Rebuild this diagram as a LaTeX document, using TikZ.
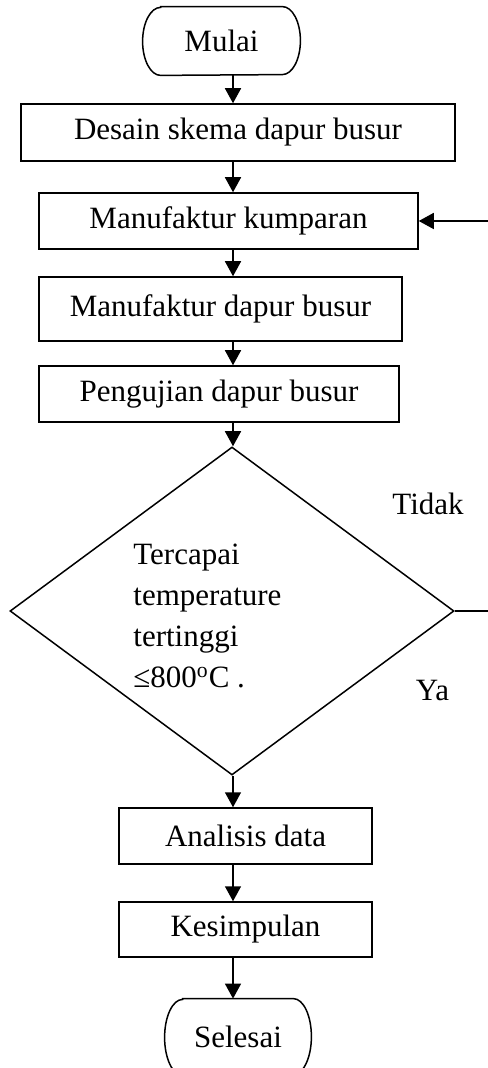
\documentclass[tikz,border=0pt]{standalone}
\usepackage{fontspec}
\setmainfont{Liberation Serif}
\usetikzlibrary{arrows.meta,shapes.geometric}
\begin{document}
\begin{tikzpicture}[x=0.5pt,y=-0.5pt,
  txt/.style={inner sep=0pt, font=\fontsize{15.5}{20.5}\selectfont},
  box/.style={txt, draw, line width=0.75pt},
  ln/.style={line width=0.75pt},
  arr/.style={line width=0.75pt, -{Triangle[length=7.5pt,width=8pt]}}]
\useasboundingbox (0,0) rectangle (487,1068);
\coordinate (ax) at (233,0);
\coordinate (ret) at (497,0);

\node[txt, minimum width=78.5pt, minimum height=34pt] (mulai) at (221.5,41) {Mulai};
\draw[ln] ([xshift=9pt]mulai.north west) -- ([xshift=-9pt]mulai.north east)
  arc[start angle=90,end angle=-90,x radius=9pt,y radius=17pt]
  -- ([xshift=9pt]mulai.south west)
  arc[start angle=270,end angle=90,x radius=9pt,y radius=17pt] -- cycle;

\node[box, minimum width=217pt, minimum height=28.5pt] (desain) at (238,132.5) {Desain skema dapur busur};
\node[box, minimum width=189.5pt, minimum height=28pt] (kump) at (228.5,221) {Manufaktur kumparan};
\node[box, minimum width=181.5pt, minimum height=32pt] (dapur) at (220.5,309) {Manufaktur dapur busur};
\node[box, minimum width=180pt, minimum height=28pt] (uji) at (219,394) {Pengujian dapur busur};
\node[draw, ln, diamond, inner sep=0pt, minimum width=222pt, minimum height=164pt] (dia) at (232,611) {};
\node[txt, align=left, anchor=west] (dtext) at (133,616) {Tercapai\\temperature\\tertinggi\\≤800\textsuperscript{o}C .};
\node[txt] (tidak) at (428,504) {Tidak};
\node[txt] (ya) at (432.5,690) {Ya};
\node[box, minimum width=126.5pt, minimum height=28pt] (anal) at (245.5,836) {Analisis data};
\node[box, minimum width=126.5pt, minimum height=27.5pt] (kes) at (245.5,929.5) {Kesimpulan};
\node[txt, minimum width=73pt, minimum height=38pt] (sel) at (238,1037) {Selesai};
\draw[ln] ([xshift=9pt]sel.north west) -- ([xshift=-9pt]sel.north east)
  arc[start angle=90,end angle=-90,x radius=9pt,y radius=19pt]
  -- ([xshift=9pt]sel.south west)
  arc[start angle=270,end angle=90,x radius=9pt,y radius=19pt] -- cycle;

\draw[arr] (mulai.south -| ax) -- (desain.north -| ax);
\draw[arr] (desain.south -| ax) -- (kump.north -| ax);
\draw[arr] (kump.south -| ax) -- (dapur.north -| ax);
\draw[arr] (dapur.south -| ax) -- (uji.north -| ax);
\draw[arr] (uji.south -| ax) -- (dia.north -| ax);
\draw[arr] (dia.south -| ax) -- (anal.north -| ax);
\draw[arr] (anal.south -| ax) -- (kes.north -| ax);
\draw[arr] (kes.south -| ax) -- (sel.north -| ax);
\draw[arr] (dia.east) -| (ret) |- (kump.east);
\end{tikzpicture}
\end{document}
